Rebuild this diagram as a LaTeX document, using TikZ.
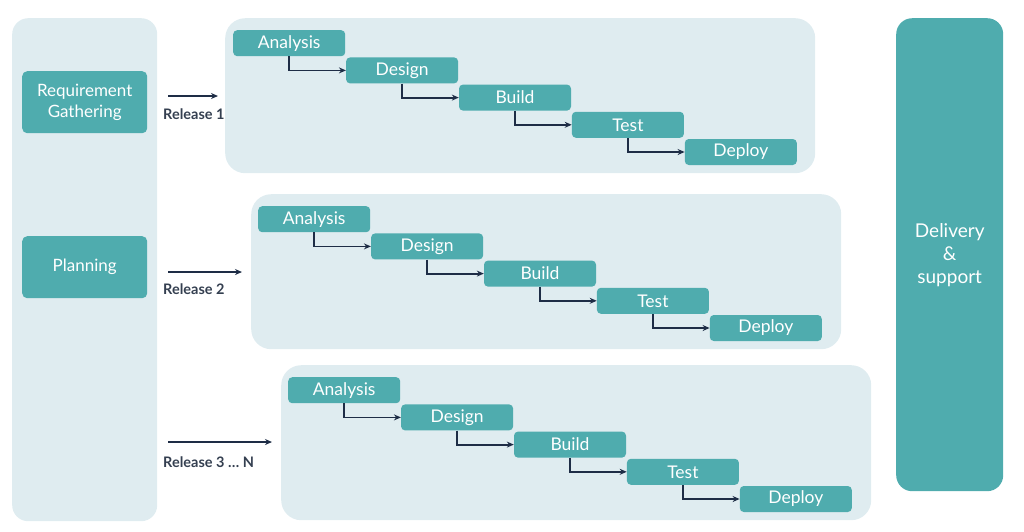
\documentclass[tikz,border=0pt]{standalone}
\usepackage{fontspec}
\setmainfont{Lato}
\usetikzlibrary{arrows.meta,positioning}
\definecolor{boxteal}{HTML}{4FACAE}
\definecolor{panelblue}{HTML}{DFECF0}
\definecolor{arrownavy}{HTML}{1E2D46}
\definecolor{labelgray}{HTML}{343F50}

\begin{document}
\begin{tikzpicture}[x=1pt,y=-1pt,>={Stealth[length=7pt,width=6pt]},
  panel/.style={fill=panelblue, rounded corners=20pt, inner sep=0pt, anchor=north west},
  phasebox/.style={fill=boxteal, rounded corners=5pt, inner sep=0pt, text=white, align=center, anchor=north west, font=\fontsize{17}{21}\selectfont},
  stagebox/.style={fill=boxteal, rounded corners=4pt, minimum width=112pt, minimum height=26pt, inner sep=0pt, text=white, font=\fontsize{17.5}{20}\selectfont},
  flow/.style={->, draw=arrownavy, line width=1.8pt},
  release/.style={font=\bfseries\fontsize{14.5}{17}\selectfont, text=labelgray, anchor=west, inner sep=0pt}]
  \useasboundingbox (0,0) rectangle (1024,531);

  % side columns
  \node (L) [panel, rounded corners=16pt, minimum width=145pt, minimum height=503pt] at (12,18) {};
  \node (RG) [phasebox, minimum width=125pt, minimum height=62pt] at (22,71) {Requirement\\Gathering};
  \node (PL) [phasebox, minimum width=125pt, minimum height=62pt] at (22,236) {Planning};
  \node (DS) [phasebox, rounded corners=16pt, minimum width=107pt, minimum height=473pt, font=\fontsize{19}{23}\selectfont] at (896,18) {Delivery\\\&\\support};

  % release panels
  \node (P1) [panel, minimum width=590pt, minimum height=155pt] at (225,18) {};
  \node (P2) [panel, minimum width=590pt, minimum height=155pt] at (251,194) {};
  \node (P3) [panel, minimum width=590pt, minimum height=155pt] at (281,365) {};

  % release 1
  \node (A1) [stagebox, anchor=north west] at (233,30) {Analysis};
  \node (D1) [stagebox, below right=0.8pt and 0.5pt of A1] {Design};
  \node (B1) [stagebox, below right=0.8pt and 0.5pt of D1] {Build};
  \node (T1) [stagebox, below right=0.8pt and 0.5pt of B1] {Test};
  \node (E1) [stagebox, below right=0.8pt and 0.5pt of T1] {Deploy};

  % release 2
  \node (A2) [stagebox, anchor=north west] at (258,206) {Analysis};
  \node (D2) [stagebox, below right=0.8pt and 0.5pt of A2] {Design};
  \node (B2) [stagebox, below right=0.8pt and 0.5pt of D2] {Build};
  \node (T2) [stagebox, below right=0.8pt and 0.5pt of B2] {Test};
  \node (E2) [stagebox, below right=0.8pt and 0.5pt of T2] {Deploy};

  % release 3 ... N
  \node (A3) [stagebox, anchor=north west] at (288,377) {Analysis};
  \node (D3) [stagebox, below right=0.8pt and 0.5pt of A3] {Design};
  \node (B3) [stagebox, below right=0.8pt and 0.5pt of D3] {Build};
  \node (T3) [stagebox, below right=0.8pt and 0.5pt of B3] {Test};
  \node (E3) [stagebox, below right=0.8pt and 0.5pt of T3] {Deploy};

  \draw[flow] (A1.south) |- (D1.west);
  \draw[flow] (D1.south) |- (B1.west);
  \draw[flow] (B1.south) |- (T1.west);
  \draw[flow] (T1.south) |- (E1.west);
  \draw[flow] (A2.south) |- (D2.west);
  \draw[flow] (D2.south) |- (B2.west);
  \draw[flow] (B2.south) |- (T2.west);
  \draw[flow] (T2.south) |- (E2.west);
  \draw[flow] (A3.south) |- (D3.west);
  \draw[flow] (D3.south) |- (B3.west);
  \draw[flow] (B3.south) |- (T3.west);
  \draw[flow] (T3.south) |- (E3.west);

  % release arrows
  \coordinate (R1) at (168,96);
  \coordinate (R2) at (168,272);
  \coordinate (R3) at (168,442);
  \draw[flow] (R1) -- ([xshift=-7pt]P1.west |- R1);
  \draw[flow] (R2) -- ([xshift=-9pt]P2.west |- R2);
  \draw[flow] (R3) -- ([xshift=-9pt]P3.west |- R3);
  \node (RL1) [release] at (163,114) {Release 1};
  \node (RL2) [release] at (163,289) {Release 2};
  \node (RL3) [release] at (163,462) {Release 3 \dots{} N};
\end{tikzpicture}
\end{document}
